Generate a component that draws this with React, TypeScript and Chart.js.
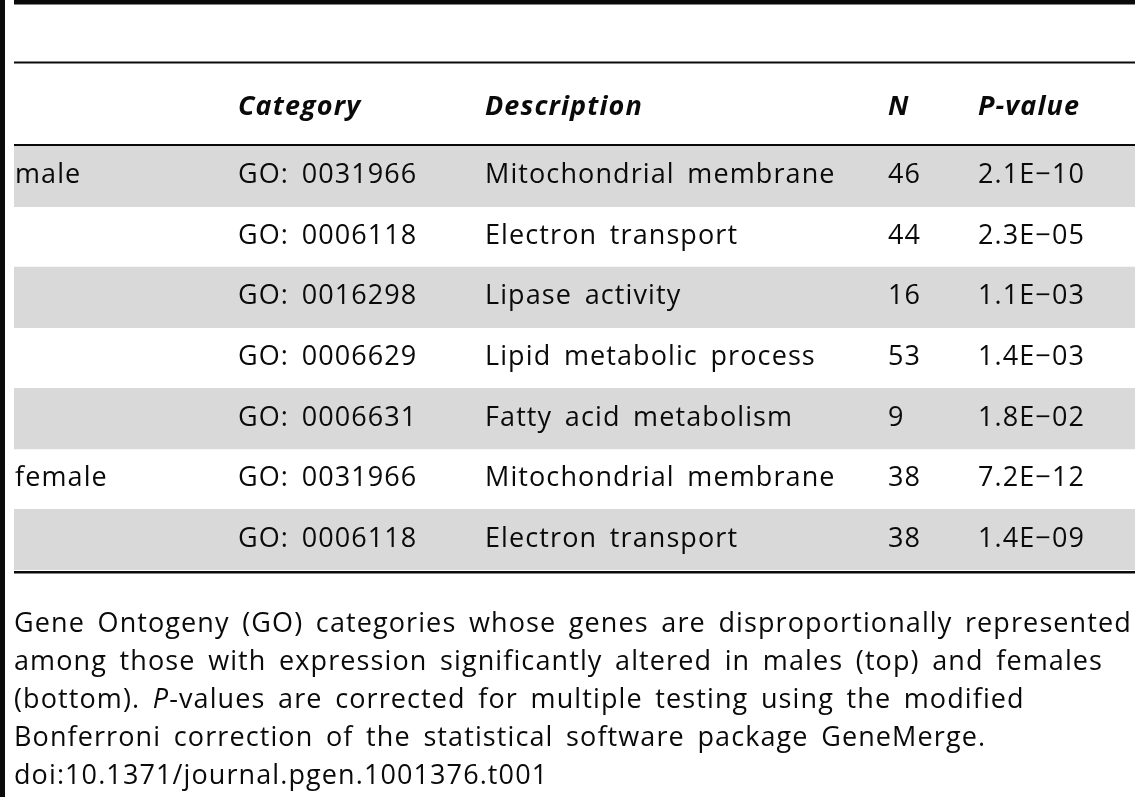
import { useEffect, useRef } from "react";
import { Chart, registerables } from "chart.js";

Chart.register(...registerables);

// table content
const groups = ["male", "", "", "", "", "female", ""];
const categories = [
  "GO: 0031966",
  "GO: 0006118",
  "GO: 0016298",
  "GO: 0006629",
  "GO: 0006631",
  "GO: 0031966",
  "GO: 0006118",
];
const descriptions = [
  "Mitochondrial membrane",
  "Electron transport",
  "Lipase activity",
  "Lipid metabolic process",
  "Fatty acid metabolism",
  "Mitochondrial membrane",
  "Electron transport",
];
const counts = [46, 44, 16, 53, 9, 38, 38];
const pValues = ["2.1E\u221210", "2.3E\u221205", "1.1E\u221203", "1.4E\u221203", "1.8E\u221202", "7.2E\u221212", "1.4E\u221209"];
const shaded = [true, false, true, false, true, false, true];
const headers = ["", "Category", "Description", "N", "P-value"];

// caption lines, each as [text, italic] pieces
const caption: [string, boolean][][] = [
  [["Gene Ontogeny (GO) categories whose genes are disproportionally represented", false]],
  [["among those with expression significantly altered in males (top) and females", false]],
  [["(bottom). ", false], ["P", true], ["-values are corrected for multiple testing using the modified", false]],
  [["Bonferroni correction of the statistical software package GeneMerge.", false]],
  [["doi:10.1371/journal.pgen.1001376.t001", false]],
];

const W = 1135;
const H = 800;
const TABLE_W = W - 14;
const COL_X = [1, 224, 471, 874, 964];
const FONT = "'Open Sans', 'Noto Sans', sans-serif";
const SIZE = 27;
const INK = "#0a0a0a";

const tablePlugin = {
  id: "tableText",
  afterDatasetsDraw(chart: any) {
    const { ctx, chartArea, scales } = chart;
    const x = scales.x;
    const y = scales.y;
    ctx.save();
    ctx.fillStyle = INK;

    // rules
    ctx.fillRect(0, 0, 5, 797);
    ctx.fillRect(chartArea.left, 0, W - chartArea.left, 4.5);
    ctx.fillRect(chartArea.left, 61.5, W - chartArea.left, 2);
    ctx.fillRect(chartArea.left, chartArea.top - 2, W - chartArea.left, 2);
    ctx.fillRect(chartArea.left, chartArea.bottom + 1, W - chartArea.left, 2.5);

    ctx.textBaseline = "alphabetic";
    ctx.textAlign = "left";
    (ctx as any).letterSpacing = "1.1px";
    (ctx as any).wordSpacing = "4.5px";

    // header
    ctx.font = `italic bold ${SIZE}px ${FONT}`;
    headers.forEach((h, c) => {
      if (h) ctx.fillText(h, x.getPixelForValue(COL_X[c]), 115);
    });

    // rows
    ctx.font = `${SIZE}px ${FONT}`;
    categories.forEach((cat, i) => {
      const by = y.getPixelForValue(i) + 7;
      const cells = [groups[i], cat, descriptions[i], String(counts[i]), pValues[i]];
      cells.forEach((t, c) => {
        if (t) ctx.fillText(t, x.getPixelForValue(COL_X[c]), by);
      });
    });

    // caption
    caption.forEach((line, k) => {
      let cx = chartArea.left;
      const by = chartArea.bottom + 62 + k * 38;
      line.forEach(([t, it]) => {
        ctx.font = `${it ? "italic " : ""}${SIZE}px ${FONT}`;
        ctx.fillText(t, cx, by);
        cx += ctx.measureText(t).width;
      });
    });
    ctx.restore();
  },
};

export default function App() {
  const canvasRef = useRef<HTMLCanvasElement>(null);

  useEffect(() => {
    if (!canvasRef.current) return;
    const chart = new Chart(canvasRef.current, {
      type: "bar",
      data: {
        labels: categories,
        datasets: [
          {
            data: shaded.map((s) => (s ? [0, TABLE_W] : null)) as any,
            backgroundColor: "#d9d9d9",
            borderWidth: 0,
            barPercentage: 1,
            categoryPercentage: 1,
          },
        ],
      },
      options: {
        indexAxis: "y",
        responsive: true,
        maintainAspectRatio: false,
        animation: false,
        layout: { padding: { top: 146, bottom: H - 570, left: 14, right: 0 } },
        plugins: { legend: { display: false }, tooltip: { enabled: false } },
        scales: {
          x: { type: "linear", min: 0, max: TABLE_W, display: false },
          y: { type: "category", display: false },
        },
      },
      plugins: [tablePlugin],
    });
    return () => chart.destroy();
  }, []);

  return (
    <div style={{ position: "fixed", left: 0, top: 0, width: W, height: H, background: "#fff" }}>
      <canvas ref={canvasRef} />
    </div>
  );
}
